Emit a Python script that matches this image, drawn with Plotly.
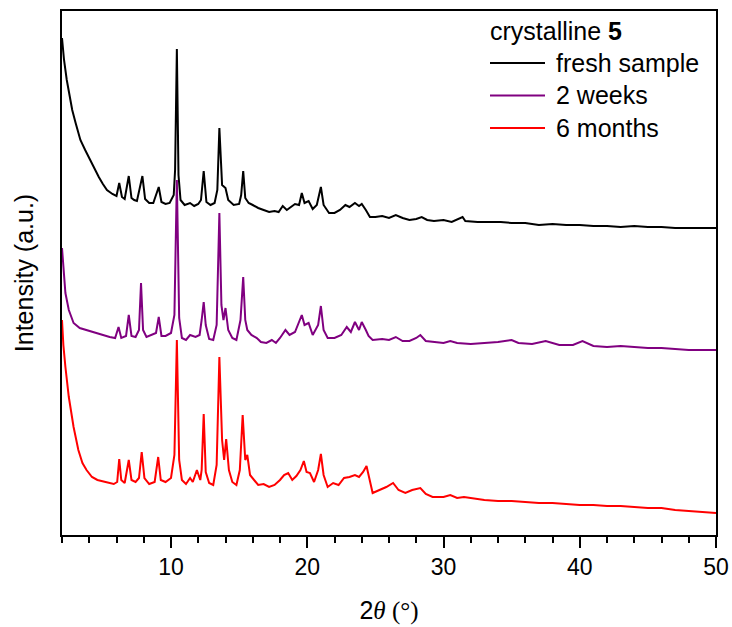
import plotly.graph_objects as go

# Powder XRD patterns of crystalline 5, stacked (intensity in arbitrary units)
two_theta_fresh = [2.0, 2.15, 2.35, 2.5, 2.75, 3.0, 3.35, 3.7, 4.05, 4.4, 4.7, 5.0, 5.3, 5.7, 6.0, 6.2, 6.4, 6.6, 6.9, 7.1,
                   7.3, 7.5, 7.9, 8.1, 8.4, 8.7, 9.1, 9.3, 9.6, 9.9, 10.2, 10.3, 10.43, 10.55, 10.7, 11.0, 11.4, 11.7, 12.0, 12.2,
                   12.4, 12.6, 12.9, 13.2, 13.4, 13.55, 13.75, 14.0, 14.2, 14.6, 15.0, 15.15, 15.3, 15.45, 15.7, 16.0, 16.4, 16.8, 17.2, 17.6,
                   17.9, 18.2, 18.5, 18.8, 19.1, 19.4, 19.6, 19.8, 20.1, 20.4, 20.7, 21.0, 21.2, 21.6, 22.0, 22.4, 22.8, 23.1, 23.5, 23.8,
                   24.0, 24.3, 24.6, 25.0, 25.5, 26.0, 26.5, 27.0, 27.5, 28.0, 28.4, 28.8, 29.3, 30.0, 30.6, 31.4, 31.6, 32.5, 33.5, 34.2,
                   35.0, 36.0, 37.0, 38.0, 39.0, 40.0, 41.0, 42.0, 43.0, 44.0, 45.0, 46.0, 47.0, 48.0, 49.0, 50.0]
intensity_fresh = [497, 475, 455, 442, 425, 412, 395, 385, 375, 366, 358, 351, 345, 341, 339, 352, 338, 336, 359, 337,
                   335, 334, 359, 336, 332, 332, 348, 333, 331, 332, 340, 365, 486, 360, 335, 330, 332, 329, 331, 335,
                   364, 333, 330, 332, 345, 407, 350, 347, 335, 330, 331, 340, 364, 337, 332, 330, 327, 325, 323, 324,
                   323, 329, 325, 328, 331, 330, 342, 332, 334, 326, 330, 348, 330, 322, 322, 325, 330, 328, 332, 329,
                   331, 325, 318, 318, 319, 317, 320, 317, 315, 316, 318, 315, 314, 315, 313, 318, 314, 313, 313, 313,
                   312, 312, 310, 311, 310, 310, 309, 309, 308, 309, 308, 308, 307, 307, 307, 307]

two_theta_2w = [2.0, 2.1, 2.25, 2.5, 2.85, 3.3, 4.0, 4.5, 5.0, 5.5, 5.9, 6.15, 6.35, 6.7, 6.9, 7.1, 7.4, 7.65, 7.8, 7.95,
                8.2, 8.6, 8.9, 9.1, 9.3, 9.6, 10.0, 10.25, 10.43, 10.6, 10.8, 11.1, 11.4, 11.8, 12.1, 12.25, 12.4, 12.55, 12.8, 13.1,
                13.35, 13.55, 13.7, 13.85, 14.0, 14.2, 14.5, 14.8, 15.1, 15.3, 15.45, 15.6, 15.9, 16.3, 16.6, 17.0, 17.4, 17.7, 18.0, 18.4,
                18.7, 19.1, 19.4, 19.6, 19.8, 20.1, 20.4, 20.8, 21.0, 21.2, 21.5, 22.0, 22.5, 22.9, 23.2, 23.5, 23.8, 24.0, 24.3, 24.5,
                24.8, 25.5, 26.0, 26.5, 27.0, 27.5, 28.0, 28.3, 28.7, 29.3, 30.0, 30.5, 31.0, 32.0, 33.0, 34.0, 35.0, 35.5, 36.5, 37.5,
                38.5, 39.5, 40.2, 41.0, 42.0, 43.0, 44.0, 45.0, 46.0, 47.0, 48.0, 49.0, 50.0]
intensity_2w = [287, 265, 242, 225, 212, 207, 204, 202, 200, 198, 197, 208, 197, 199, 220, 199, 198, 205, 252, 205,
                198, 200, 202, 218, 199, 199, 202, 220, 355, 217, 197, 195, 200, 198, 200, 215, 233, 210, 196, 195,
                210, 322, 230, 215, 227, 205, 197, 195, 215, 258, 215, 205, 200, 197, 193, 192, 195, 192, 197, 205,
                200, 203, 213, 220, 210, 212, 200, 210, 229, 205, 197, 197, 200, 208, 203, 213, 205, 213, 205, 199,
                195, 196, 195, 198, 194, 194, 197, 200, 194, 193, 192, 194, 192, 191, 192, 193, 195, 192, 191, 194,
                190, 190, 194, 189, 188, 189, 188, 187, 187, 186, 185, 185, 185]

two_theta_6m = [2.0, 2.1, 2.25, 2.5, 2.85, 3.2, 3.5, 3.8, 4.2, 4.6, 5.2, 5.8, 6.05, 6.2, 6.35, 6.6, 6.9, 7.1, 7.4, 7.65,
                7.85, 8.05, 8.4, 8.8, 9.06, 9.25, 9.6, 10.0, 10.25, 10.43, 10.6, 10.8, 11.1, 11.4, 11.6, 11.9, 12.15, 12.25, 12.4, 12.55,
                12.8, 13.1, 13.35, 13.55, 13.75, 13.9, 14.05, 14.25, 14.5, 14.8, 15.05, 15.26, 15.45, 15.6, 15.8, 16.1, 16.4, 16.8, 17.2, 17.6,
                18.0, 18.3, 18.6, 18.9, 19.2, 19.5, 19.75, 19.95, 20.2, 20.5, 20.8, 21.0, 21.2, 21.5, 21.9, 22.3, 22.7, 23.1, 23.5, 23.8,
                24.1, 24.35, 24.6, 24.8, 25.3, 25.8, 26.3, 26.7, 27.2, 27.7, 28.3, 28.7, 29.2, 30.0, 30.5, 31.0, 31.5, 32.0, 33.0, 34.0,
                35.0, 36.0, 37.0, 38.0, 39.0, 40.0, 41.0, 42.0, 43.0, 44.0, 45.0, 46.0, 47.0, 48.0, 49.0, 50.0]
intensity_6m = [215, 190, 168, 138, 108, 85, 72, 65, 58, 55, 53, 51, 53, 76, 55, 52, 75, 55, 53, 57,
                83, 57, 51, 53, 78, 55, 53, 57, 80, 195, 75, 55, 51, 57, 53, 65, 55, 65, 121, 63,
                52, 50, 70, 178, 95, 75, 96, 65, 53, 50, 65, 120, 75, 80, 60, 55, 50, 51, 48, 50,
                55, 60, 62, 55, 59, 65, 74, 63, 62, 53, 65, 81, 60, 48, 52, 50, 57, 58, 60, 58,
                63, 69, 55, 42, 45, 48, 52, 45, 42, 45, 47, 41, 38, 38, 40, 37, 38, 37, 35, 34,
                34, 33, 32, 32, 31, 30, 30, 29, 29, 28, 27, 27, 25, 24, 23, 22]

series_names = ["fresh sample", "2 weeks", "6 months"]
series_colors = ["#000000", "#800080", "#ff0000"]
x_tick_values = [10, 20, 30, 40, 50]

fig = go.Figure()
for xs, ys, name, color in zip(
        [two_theta_fresh, two_theta_2w, two_theta_6m],
        [intensity_fresh, intensity_2w, intensity_6m],
        series_names, series_colors):
    fig.add_trace(go.Scatter(x=xs, y=ys, mode="lines", name=name,
                             line=dict(color=color, width=2), showlegend=False))

font_family = "Liberation Sans, Arial, sans-serif"
serif = "font-family:'Liberation Serif', 'Times New Roman', serif"

# Legend block drawn in the upper-right corner of the plot area
L, R, T, B = 62, 716, 11, 535
def px_x(p):
    return (p - L) / (R - L)
def px_y(p):
    return (B - p) / (B - T)

fig.add_annotation(x=px_x(488), y=px_y(31), xref="paper", yref="paper", xanchor="left", yanchor="middle",
                   text="crystalline <b>5</b>", showarrow=False, font=dict(size=25, color="black", family=font_family))
for i, (name, color) in enumerate(zip(series_names, series_colors)):
    yc = 63 + 32.5 * i
    fig.add_shape(type="line", xref="paper", yref="paper", x0=px_x(490), x1=px_x(545),
                  y0=px_y(yc), y1=px_y(yc), line=dict(color=color, width=1.8))
    fig.add_annotation(x=px_x(554), y=px_y(yc), xref="paper", yref="paper", xanchor="left", yanchor="middle",
                       text=name, showarrow=False, font=dict(size=25, color="black", family=font_family))

fig.update_layout(
    width=732, height=627,
    margin=dict(l=L, r=732 - R, t=T, b=627 - B, autoexpand=False),
    paper_bgcolor="white", plot_bgcolor="white",
    font=dict(family=font_family, color="black"),
    xaxis=dict(range=[2, 50], tickvals=x_tick_values, ticks="outside", ticklen=11, tickwidth=1.5,
               tickcolor="black", showline=True, linecolor="black", linewidth=1.5, mirror=True,
               showgrid=False, zeroline=False, tickfont=dict(size=23), automargin=False,
               minor=dict(dtick=2, tick0=2, ticks="outside", ticklen=6, tickwidth=1.5, tickcolor="black", showgrid=False),
               title=dict(text=f"2<span style=\"{serif}\"><i>θ</i> (°)</span>", font=dict(size=25), standoff=22)),
    yaxis=dict(range=[0, 524], showticklabels=False, ticks="", showline=True, linecolor="black", linewidth=1.5,
               mirror=True, showgrid=False, zeroline=False, automargin=False,
               title=dict(text="Intensity (a.u.)", font=dict(size=25), standoff=20)),
)

fig.write_html("out.html")
